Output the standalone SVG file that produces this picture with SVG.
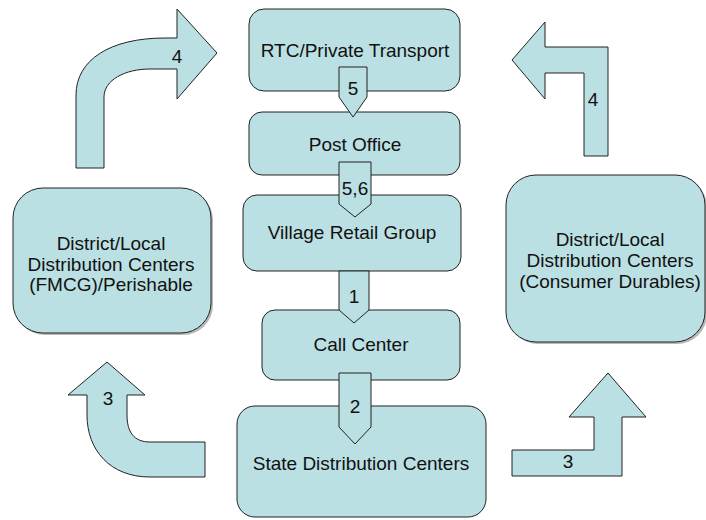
<svg xmlns="http://www.w3.org/2000/svg" width="706" height="520" viewBox="0 0 706 520">
  <style>
    .box { fill: #BBE0E3; stroke: #222; stroke-width: 1; }
    .shadow { fill: #8a8a8a; opacity: 0.6; }
    .arrow { fill: #BBE0E3; stroke: #222; stroke-width: 1; stroke-linejoin: miter; }
    text { font-family: "Liberation Sans", Arial, sans-serif; font-size: 19px; fill: #111; text-anchor: middle; }
  </style>
  <rect width="706" height="520" fill="#ffffff"/>

  <g id="nodes">
    <g id="rtc">
      <rect class="box" x="249" y="9" width="211" height="82" rx="15"/>
      <text x="355" y="57">RTC/Private Transport</text>
    </g>
    <g id="post-office">
      <rect class="box" x="249" y="112" width="211" height="63" rx="13"/>
      <text x="355" y="151">Post Office</text>
    </g>
    <g id="village-retail">
      <rect class="box" x="243" y="195" width="218" height="76" rx="14"/>
      <text x="352" y="239">Village Retail Group</text>
    </g>
    <g id="call-center">
      <rect class="box" x="262" y="310" width="198" height="70" rx="13"/>
      <text x="361" y="351">Call Center</text>
    </g>
    <g id="state-dc">
      <rect class="box" x="237" y="406" width="249" height="111" rx="18"/>
      <text x="361" y="470">State Distribution Centers</text>
    </g>
    <g id="district-fmcg">
      <rect class="shadow" x="15" y="190" width="198" height="145" rx="30"/>
      <rect class="box" x="13" y="188" width="198" height="145" rx="30"/>
      <text x="111" y="250">District/Local</text>
      <text x="111" y="271">Distribution Centers</text>
      <text x="111" y="291">(FMCG)/Perishable</text>
    </g>
    <g id="district-durables">
      <rect class="shadow" x="508" y="177" width="199" height="167" rx="30"/>
      <rect class="box" x="506" y="175" width="199" height="167" rx="30"/>
      <text x="610" y="246">District/Local</text>
      <text x="610" y="267">Distribution Centers</text>
      <text x="610" y="288">(Consumer Durables)</text>
    </g>
  </g>

  <g id="connectors">
    <!-- straight down arrows in the central column -->
    <g id="arrow-5">
      <path class="arrow" d="M339,67 L367,67 L367,97 L353,117 L339,97 Z"/>
      <text x="353" y="95">5</text>
    </g>
    <g id="arrow-5-6">
      <path class="arrow" d="M339,162 L371,162 L371,204 L355,217 L339,204 Z"/>
      <text x="355" y="195">5,6</text>
    </g>
    <g id="arrow-1">
      <path class="arrow" d="M339,271 L369,271 L369,310 L354,323 L339,310 Z"/>
      <text x="354" y="303">1</text>
    </g>
    <g id="arrow-2">
      <path class="arrow" d="M339,373 L371,373 L371,427 L355,444 L339,427 Z"/>
      <text x="355" y="413">2</text>
    </g>

    <!-- bent arrows around the sides -->
    <g id="arrow-3-left">
      <path class="arrow" d="M107,362 L145,395 L127,395 L127,415 C127,432 134,442 150,442 L205,442 L205,477 L150,477 C110,477 87,450 87,415 L87,395 L68,395 Z"/>
      <text x="108" y="405">3</text>
    </g>
    <g id="arrow-3-right">
      <path class="arrow" d="M512,450 L594,450 L594,417 L569,417 L608,373 L646,417 L622,417 L622,476 L512,476 Z"/>
      <text x="568" y="468">3</text>
    </g>
    <g id="arrow-4-left">
      <path class="arrow" d="M76,168 L76,95 C76,60 110,38 165,38 L177,38 L177,9 L217,53 L177,99 L177,69 L150,69 C125,69 104,80 104,97 L104,168 Z"/>
      <text x="177" y="63">4</text>
    </g>
    <g id="arrow-4-right">
      <path class="arrow" d="M512,60 L545,22 L545,47 L608,47 L608,156 L584,156 L584,73 L545,73 L545,99 Z"/>
      <text x="593" y="106">4</text>
    </g>
  </g>
</svg>
